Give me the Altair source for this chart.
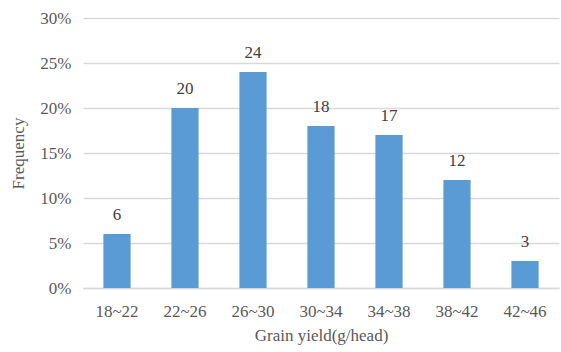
import altair as alt
import pandas as pd

# Grain yield classes and their share of heads (%)
classes = ["18~22", "22~26", "26~30", "30~34", "34~38", "38~42", "42~46"]
counts = [6, 20, 24, 18, 17, 12, 3]

df = pd.DataFrame({
    "cls": classes,
    "count": counts,
    "freq": [c / 100 for c in counts],
})

FONT = "Liberation Serif"
GREY = "#595959"

base = alt.Chart(df).encode(
    x=alt.X(
        "cls:N",
        sort=classes,
        scale=alt.Scale(paddingInner=0.6, paddingOuter=0.3),
        axis=alt.Axis(
            title="Grain yield(g/head)",
            labelAngle=0,
            ticks=False,
            domainColor="#d9d9d9",
            domainWidth=1.5,
            labelPadding=15,
            titlePadding=8,
        ),
    ),
    y=alt.Y(
        "freq:Q",
        scale=alt.Scale(domain=[0, 0.30]),
        axis=alt.Axis(
            title="Frequency",
            format=".0%",
            values=[0, 0.05, 0.10, 0.15, 0.20, 0.25, 0.30],
            ticks=False,
            domain=False,
            gridColor="#d9d9d9",
            gridWidth=1.5,
            labelPadding=12,
            titlePadding=12,
        ),
    ),
)

bars = base.mark_bar(color="#5b9bd5")
labels = base.mark_text(
    dy=-10, baseline="bottom", font=FONT, fontSize=17, color="#404040"
).encode(text="count:Q")

chart = (
    (bars + labels)
    .properties(
        width=476,
        height=270,
        padding={"left": 83, "top": 18, "right": 2, "bottom": 64},
        autosize=alt.AutoSizeParams(type="none"),
    )
    .configure_view(stroke=None)
    .configure_axis(
        labelFont=FONT,
        titleFont=FONT,
        labelFontSize=17,
        titleFontSize=17,
        labelColor=GREY,
        titleColor=GREY,
        titleFontWeight="normal",
    )
)

chart.save("out.html", embed_options={"renderer": "svg", "actions": False})
